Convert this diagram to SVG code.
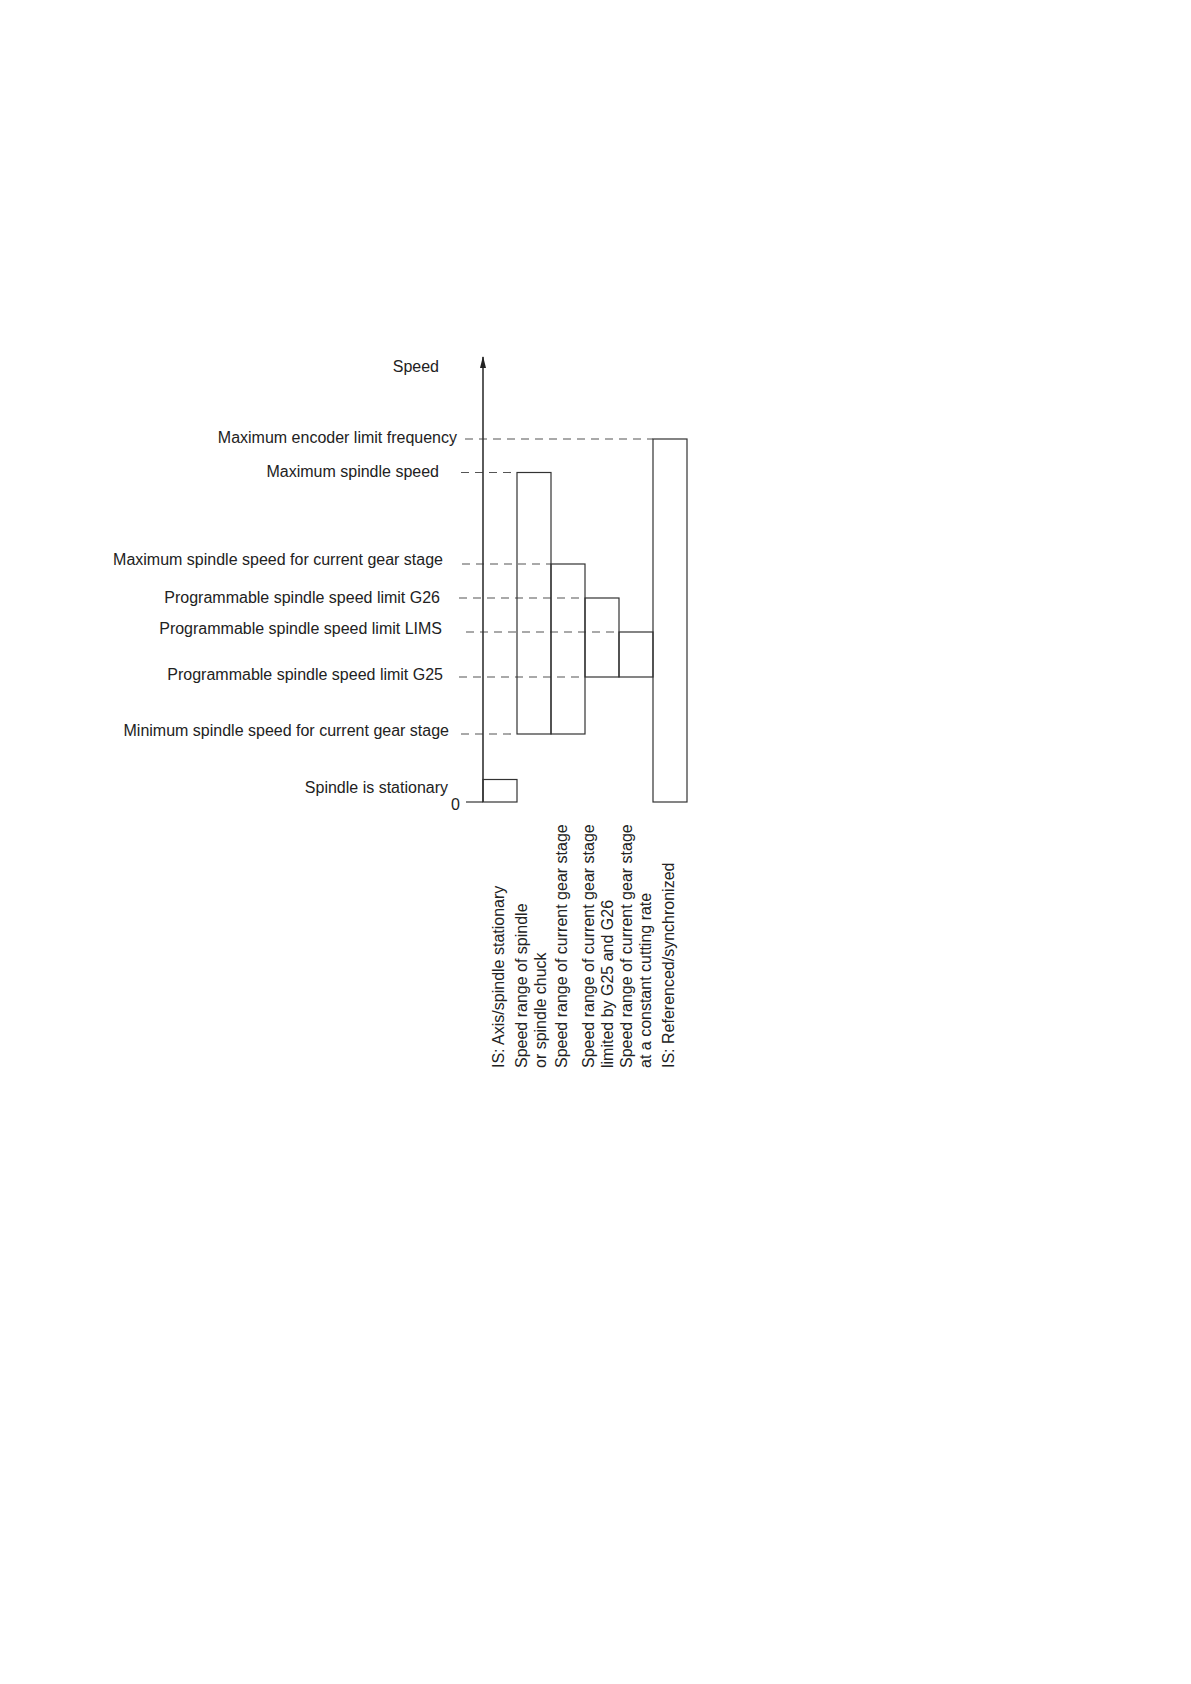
<svg xmlns="http://www.w3.org/2000/svg" width="1191" height="1684" viewBox="0 0 1191 1684">
<style>
text{font-family:"Liberation Sans",Arial,sans-serif;font-size:16px;fill:#222}
.l{text-anchor:end}
.box{fill:none;stroke:#333;stroke-width:1.2}
.dash{fill:none;stroke:#555;stroke-width:1.1;stroke-dasharray:8 6}
.axis{fill:none;stroke:#333;stroke-width:1.6}
</style>
<defs>
<marker id="arr" viewBox="0 0 10 10" refX="10" refY="5" markerWidth="5" markerHeight="5" markerUnits="userSpaceOnUse" orient="auto">
<path d="M0,0 L10,5 L0,10 z" fill="#222"/>
</marker>
</defs>
<rect width="1191" height="1684" fill="#fff"/>

<g id="connectors">
<line class="dash" x1="465" y1="439" x2="653" y2="439"/>
<line class="dash" x1="461" y1="472.5" x2="517" y2="472.5"/>
<line class="dash" x1="462" y1="564" x2="551" y2="564"/>
<line class="dash" x1="459" y1="598" x2="585" y2="598"/>
<line class="dash" x1="466" y1="632" x2="619" y2="632"/>
<line class="dash" x1="459" y1="677" x2="585" y2="677"/>
<line class="dash" x1="461" y1="734" x2="517" y2="734"/>
</g>

<g id="axis">
<line class="axis" x1="483" y1="802" x2="483" y2="357"/>
<path d="M483,356 L480,368 L486,368 z" fill="#222"/>
<line class="box" x1="466" y1="802" x2="483" y2="802"/>
<text x="439" y="372" class="l">Speed</text>
<text x="460" y="810" class="l">0</text>
</g>

<g id="bar-stationary"><rect class="box" x="483" y="779.5" width="34" height="22.5"/></g>
<g id="bar-spindle"><rect class="box" x="517" y="472.5" width="34" height="261.5"/></g>
<g id="bar-gear"><rect class="box" x="551" y="564" width="34" height="170"/></g>
<g id="bar-g25g26"><rect class="box" x="585" y="598" width="34" height="79"/></g>
<g id="bar-lims"><rect class="box" x="619" y="632" width="34" height="45"/></g>
<g id="bar-encoder"><rect class="box" x="653" y="439" width="34" height="363"/></g>

<g id="labels-left">
<text x="457" y="442.5" class="l">Maximum encoder limit frequency</text>
<text x="439" y="477" class="l">Maximum spindle speed</text>
<text x="443" y="565" class="l">Maximum spindle speed for current gear stage</text>
<text x="440" y="603" class="l">Programmable spindle speed limit G26</text>
<text x="442" y="634" class="l">Programmable spindle speed limit LIMS</text>
<text x="443" y="680" class="l">Programmable spindle speed limit G25</text>
<text x="449" y="736" class="l">Minimum spindle speed for current gear stage</text>
<text x="448" y="792.5" class="l">Spindle is stationary</text>
</g>

<g id="labels-bottom">
<text transform="translate(503.5,1068) rotate(-90)">IS: Axis/spindle stationary</text>
<text transform="translate(526.5,1068) rotate(-90)">Speed range of spindle</text>
<text transform="translate(545.5,1068) rotate(-90)">or spindle chuck</text>
<text transform="translate(567,1068) rotate(-90)">Speed range of current gear stage</text>
<text transform="translate(593.5,1068) rotate(-90)">Speed range of current gear stage</text>
<text transform="translate(612.5,1068) rotate(-90)">limited by G25 and G26</text>
<text transform="translate(632,1068) rotate(-90)">Speed range of current gear stage</text>
<text transform="translate(651,1068) rotate(-90)">at a constant cutting rate</text>
<text transform="translate(673.5,1068) rotate(-90)">IS: Referenced/synchronized</text>
</g>
</svg>
